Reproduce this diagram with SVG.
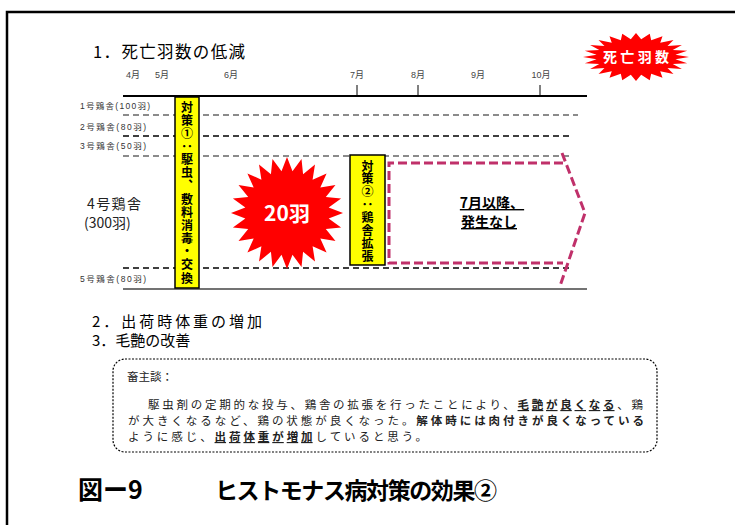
<svg xmlns="http://www.w3.org/2000/svg" width="735" height="525" viewBox="0 0 735 525">
<style>
.jp{font-family:"Noto Sans CJK JP","Noto Sans",sans-serif}
.mon{font-family:"Liberation Sans","Noto Sans CJK JP",sans-serif;font-size:9px;fill:#444}
.row{font-family:"Liberation Sans","Noto Sans CJK JP",sans-serif;font-size:8.5px;fill:#333}
.vt{font-family:"Noto Sans CJK JP",sans-serif;font-weight:bold;font-size:12px;writing-mode:vertical-rl;fill:#000}
.body{font-family:"Noto Sans CJK JP",sans-serif;font-size:11.5px;fill:#222}
</style>
<defs>
<polygon id="burst" points="100,0 74.4,9.8 96.6,25.9 69.3,28.7 86.6,50 59.5,45.7 70.7,70.7 45.7,59.5 50,86.6 28.7,69.3 25.9,96.6 9.8,74.4 0,100 -9.8,74.4 -25.9,96.6 -28.7,69.3 -50,86.6 -45.7,59.5 -70.7,70.7 -59.5,45.7 -86.6,50 -69.3,28.7 -96.6,25.9 -74.4,9.8 -100,0 -74.4,-9.8 -96.6,-25.9 -69.3,-28.7 -86.6,-50 -59.5,-45.7 -70.7,-70.7 -45.7,-59.5 -50,-86.6 -28.7,-69.3 -25.9,-96.6 -9.8,-74.4 0,-100 9.8,-74.4 25.9,-96.6 28.7,-69.3 50,-86.6 45.7,-59.5 70.7,-70.7 59.5,-45.7 86.6,-50 69.3,-28.7 96.6,-25.9 74.4,-9.8"/>
</defs>
<rect width="735" height="525" fill="#fff"/>
<!-- frame -->
<path d="M7,525 V12 H735" fill="none" stroke="#000" stroke-width="2.5"/>

<g id="heading1"><text class="jp" x="93" y="58" font-size="16.5" textLength="152">1．死亡羽数の低減</text></g>

<g id="badge-death">
<use href="#burst" transform="translate(636,57) scale(0.53,0.24)" fill="#ff0000"/>
<text class="jp" x="636" y="62" font-size="14" font-weight="bold" fill="#fff" text-anchor="middle" textLength="66">死亡羽数</text>
</g>

<g id="timeline">
<text class="mon" x="133" y="78" text-anchor="middle">4月</text>
<text class="mon" x="162" y="78" text-anchor="middle">5月</text>
<text class="mon" x="231" y="78" text-anchor="middle">6月</text>
<text class="mon" x="357" y="78" text-anchor="middle">7月</text>
<text class="mon" x="418" y="78" text-anchor="middle">8月</text>
<text class="mon" x="478" y="78" text-anchor="middle">9月</text>
<text class="mon" x="541" y="78" text-anchor="middle">10月</text>
<line x1="123" y1="96" x2="587" y2="96" stroke="#000" stroke-width="2"/>
<line x1="357" y1="85" x2="357" y2="96" stroke="#000" stroke-width="1"/>
<line x1="418" y1="85" x2="418" y2="96" stroke="#000" stroke-width="1"/>
<line x1="540" y1="85" x2="540" y2="96" stroke="#000" stroke-width="1"/>
<line x1="123" y1="289" x2="587" y2="289" stroke="#444" stroke-width="1.5"/>
</g>

<g id="rows">
<text class="row" x="80" y="109" textLength="70">1号鶏舎(100羽)</text>
<text class="row" x="80" y="130" textLength="66">2号鶏舎(80羽)</text>
<text class="row" x="80" y="149" textLength="66">3号鶏舎(50羽)</text>
<text class="row" x="80" y="282" textLength="66">5号鶏舎(80羽)</text>
<text class="jp" x="87" y="209" font-size="14" fill="#222" textLength="54">4号鶏舎</text>
<text class="jp" x="84" y="228" font-size="14" fill="#222">(300羽)</text>
<line x1="123" y1="115" x2="578" y2="115" stroke="#666" stroke-width="1.3" stroke-dasharray="6,4"/>
<line x1="123" y1="136" x2="572" y2="136" stroke="#000" stroke-width="1.6" stroke-dasharray="6,4"/>
<line x1="123" y1="156" x2="572" y2="156" stroke="#666" stroke-width="1.3" stroke-dasharray="6,4"/>
<line x1="123" y1="268" x2="572" y2="268" stroke="#000" stroke-width="1.3" stroke-dasharray="6,4"/>
</g>

<g id="measure1">
<rect x="175" y="97" width="24" height="191" fill="#ffff00" stroke="#000" stroke-width="1.5"/>
<text class="vt" x="187" y="101" textLength="183">対策①：駆虫、敷料消毒・交換</text>
</g>

<g id="burst20">
<use href="#burst" transform="translate(287,213) scale(0.56)" fill="#ff0000"/>
<text class="jp" x="287" y="221" font-size="21" font-weight="bold" fill="#fff" text-anchor="middle">20羽</text>
</g>

<g id="measure2">
<rect x="350" y="155" width="35" height="110" fill="#ffff00" stroke="#000" stroke-width="1.5"/>
<text class="vt" x="367.5" y="160" textLength="102">対策②：鶏舎拡張</text>
</g>

<g id="no-occurrence">
<polyline points="563,163 389,163 389,263 563,263" fill="none" stroke="#c0306a" stroke-width="3" stroke-dasharray="9,4"/>
<polyline points="562,153 585,213 560,286" fill="none" stroke="#c0306a" stroke-width="3" stroke-dasharray="9,4"/>
<text class="jp" x="492" y="208" font-size="14" font-weight="bold" text-anchor="middle" text-decoration="underline">7月以降、</text>
<text class="jp" x="489" y="227" font-size="14" font-weight="bold" text-anchor="middle" text-decoration="underline">発生なし</text>
</g>

<g id="heading2">
<text class="jp" x="92" y="327" font-size="15" textLength="170">2．出荷時体重の増加</text>
<text class="jp" x="92" y="346" font-size="15">3．毛艶の改善</text>
</g>

<g id="comment">
<rect x="113" y="359" width="544" height="93" rx="12" fill="none" stroke="#000" stroke-width="1.2" stroke-dasharray="2,1.5"/>
<text class="body" x="127" y="381">畜主談：</text>
<text class="body" x="148" y="409" textLength="495">駆虫剤の定期的な投与、鶏舎の拡張を行ったことにより、<tspan font-weight="bold" text-decoration="underline">毛艶が良くなる</tspan>、鶏</text>
<text class="body" x="128" y="425" textLength="516">が大きくなるなど、鶏の状態が良くなった。<tspan font-weight="bold">解体時には肉付きが良くなっている</tspan></text>
<text class="body" x="128" y="441" textLength="299">ように感じ、<tspan font-weight="bold" text-decoration="underline">出荷体重が増加</tspan>していると思う。</text>
</g>

<g id="caption">
<text class="jp" x="78" y="499" font-size="25" font-weight="bold">図ー9</text>
<text class="jp" x="215" y="499" font-size="23" font-weight="bold" textLength="282">ヒストモナス病対策の効果②</text>
</g>
</svg>
